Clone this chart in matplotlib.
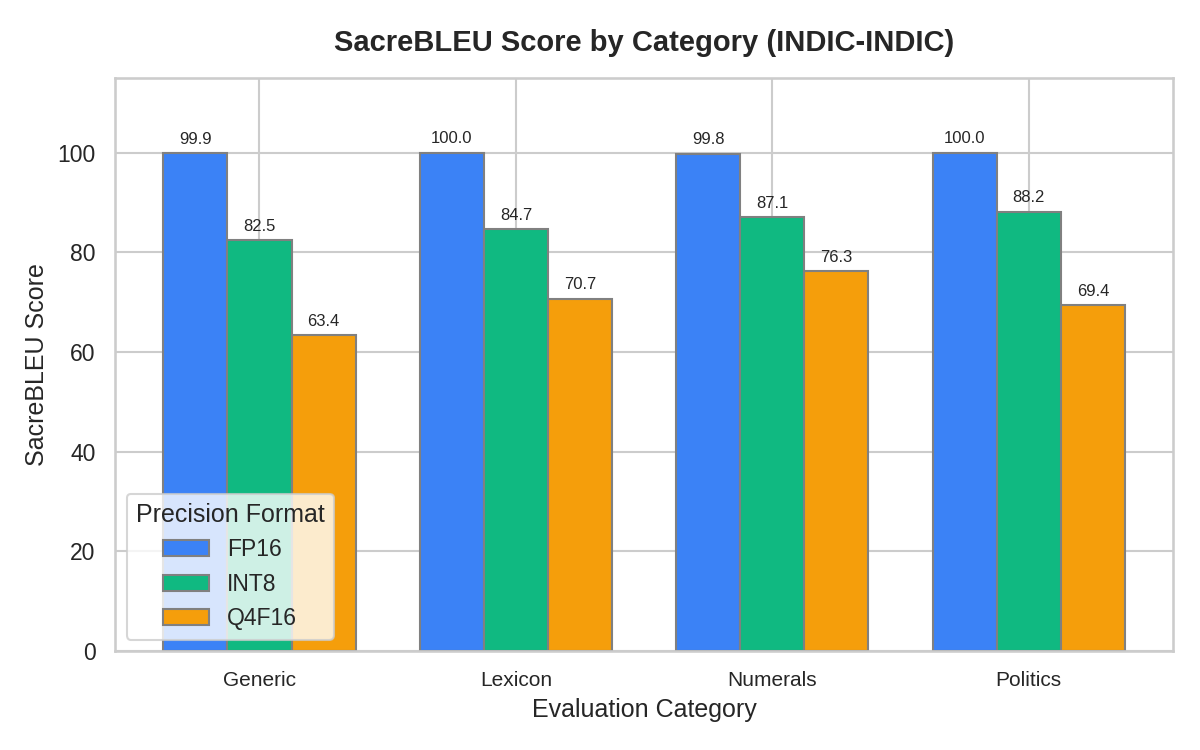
import matplotlib
matplotlib.use("Agg")
import matplotlib.pyplot as plt
import numpy as np
import seaborn as sns

categories = ["Generic", "Lexicon", "Numerals", "Politics"]
fp16 = [99.9, 100.0, 99.8, 100.0]
int8 = [82.5, 84.7, 87.1, 88.2]
q4f16 = [63.4, 70.7, 76.3, 69.4]
series_names = ["FP16", "INT8", "Q4F16"]
colors = ["#3b82f6", "#10b981", "#f59e0b"]

sns.set_theme(style="whitegrid")
plt.rcParams['font.family'] = ['Liberation Sans', 'DejaVu Sans']

fig, ax = plt.subplots(figsize=(8, 5), dpi=150)
fig.subplots_adjust(left=0.096, right=0.9775, top=0.896, bottom=0.132)

x = np.arange(len(categories))
w = 0.25
for i, (vals, name, c) in enumerate(zip([fp16, int8, q4f16], series_names, colors)):
    bars = ax.bar(x + (i - 1) * w, vals, w, label=name, color=c,
                  edgecolor="gray", linewidth=1)
    ax.bar_label(bars, labels=[f"{v:.1f}" for v in vals], padding=3, fontsize=8)

ax.set_ylim(0, 115)
ax.set_xticks(x)
ax.set_xticklabels(categories, fontsize=10)
ax.tick_params(axis='y', labelsize=11)
ax.set_xlabel("Evaluation Category", fontsize=12)
ax.set_ylabel("SacreBLEU Score", fontsize=12)
ax.set_title("SacreBLEU Score by Category (INDIC-INDIC)", fontsize=14,
             fontweight="bold", pad=13)
ax.legend(title="Precision Format", loc="lower left", fontsize=11, title_fontsize=12)

fig.savefig("out.png", dpi=150)
